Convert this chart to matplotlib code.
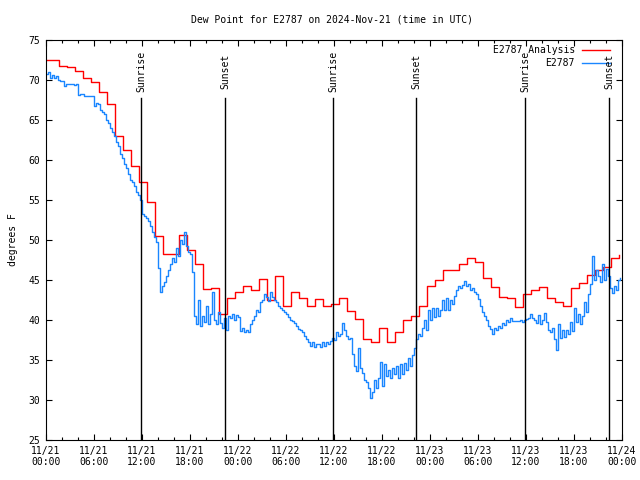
import numpy as np
import pandas as pd
import matplotlib
matplotlib.use('Agg')
import matplotlib.pyplot as plt
import matplotlib.dates as mdates
from matplotlib.lines import Line2D

# Hourly analysis values (valid at hh:40, drawn as steps)
red_start = '2024-11-20 23:40'
red_vals = [72.5, 72.5, 71.75, 71.6, 71.1, 70.2, 69.8, 68.5, 67.0, 63.0, 61.3, 59.2, 57.2,
            54.7, 50.5, 48.2, 48.2, 50.6, 48.75, 47.0, 43.9, 44.0, 40.8, 42.8, 43.5,
            44.25, 43.7, 45.1, 42.5, 45.5, 41.75, 43.5, 42.7, 41.75, 42.6, 41.75,
            42.0, 42.7, 41.1, 40.1, 37.6, 37.3, 39.0, 37.2, 38.5, 40.0, 40.5, 41.7, 44.3,
            45.0, 46.2, 46.2, 47.0, 47.7, 47.2, 45.2, 44.1, 42.9, 42.8, 41.6,
            43.3, 43.8, 44.1, 42.7, 42.3, 41.7, 44.0, 44.6, 45.6, 46.3, 46.6, 47.7, 48.1]

# Station observations, every 15 minutes
blue_day1 = [70.8, 71.0, 70.3, 70.6, 70.2, 70.5, 70.0, 69.9, 69.9, 69.2, 69.5, 69.5,
             69.5, 69.5, 69.4, 69.5, 68.1, 68.3, 68.3, 68.0, 68.0, 68.0, 68.0, 68.0,
             66.7, 67.1, 67.0, 66.3, 66.0, 65.8, 65.0, 64.6, 64.0, 63.5, 63.0, 62.3,
             61.8, 60.7, 60.2, 59.5, 59.0, 58.2, 57.5, 57.2, 56.8, 56.0, 55.6, 55.0,
             53.3, 53.0, 52.8, 52.4, 51.8, 51.0, 50.4, 49.8, 46.5, 43.5, 44.3, 44.8,
             45.5, 46.2, 47.0, 47.8, 47.2, 49.0, 48.0, 50.0, 49.5, 51.0, 49.3, 48.5,
             48.2, 46.0, 40.5, 39.5, 42.5, 39.2, 40.5, 39.8, 41.8, 39.5, 40.8, 43.5,
             40.0, 39.5, 41.0, 39.6, 39.0, 40.2, 38.8, 40.5, 40.2, 40.7, 40.0, 40.6]
blue_day2 = [40.4, 38.6, 39.0, 38.5, 38.8, 38.5, 39.5, 40.0, 40.5, 41.2, 41.0, 42.2,
             42.5, 43.3, 42.9, 42.4, 43.5, 42.9, 42.5, 42.3, 41.8, 41.5, 41.2, 41.0,
             40.8, 40.4, 40.0, 39.9, 39.6, 39.2, 38.9, 38.8, 38.5, 38.0, 37.6, 37.2,
             36.8, 37.2, 36.6, 37.0, 37.0, 36.6, 37.3, 36.8, 37.2, 37.0, 37.4, 37.8,
             37.5, 38.5, 38.0, 38.3, 39.6, 38.8, 38.0, 37.6, 37.8, 35.8, 34.2, 33.6,
             36.5, 34.0, 33.4, 32.5, 32.2, 31.5, 30.2, 31.0, 32.5, 31.5, 32.8, 34.8,
             31.8, 34.5, 33.0, 33.8, 32.8, 34.0, 33.2, 34.2, 32.8, 34.5, 33.3, 34.6,
             33.8, 35.3, 34.2, 35.6, 36.5, 37.6, 38.2, 38.0, 39.0, 40.0, 38.8, 41.2]
blue_day3 = [40.0, 41.5, 40.4, 41.5, 40.5, 41.3, 42.5, 41.3, 42.8, 41.2, 42.5, 42.0,
             43.0, 43.8, 44.3, 44.0, 44.4, 44.9, 44.2, 44.5, 43.8, 44.0, 43.5, 43.3,
             42.6, 41.8, 41.0, 40.5, 40.0, 39.3, 38.9, 38.2, 39.0, 38.7, 39.3, 39.0,
             39.6, 39.4, 40.0, 39.8, 40.2, 39.9, 39.9, 39.9, 39.9, 40.0, 39.7, 40.0,
             40.1, 40.2, 40.8, 40.2, 40.0, 39.6, 40.6, 39.5, 40.0, 40.9, 39.8, 38.8,
             38.5, 39.0, 37.6, 36.3, 39.5, 37.8, 38.8, 37.9, 38.8, 38.3, 39.8, 38.6,
             41.5, 39.8, 40.8, 39.5, 40.5, 42.3, 41.0, 43.2, 44.5, 48.0, 45.0, 46.2,
             45.5, 44.8, 47.0, 45.0, 46.4, 45.5, 44.0, 43.4, 44.3, 43.8, 45.0, 45.3]

sun_times = ['2024-11-21 11:53', '2024-11-21 22:24', '2024-11-22 11:54',
             '2024-11-22 22:18', '2024-11-23 11:55', '2024-11-23 22:22']
sun_labels = ['Sunrise', 'Sunset', 'Sunrise', 'Sunset', 'Sunrise', 'Sunset']

red_t = pd.date_range(red_start, periods=len(red_vals), freq='h')
blue_vals = blue_day1 + blue_day2 + blue_day3
blue_t = pd.date_range('2024-11-21 00:00', periods=len(blue_vals), freq='15min')

mono = 'DejaVu Sans Mono'
fs = 7

fig = plt.figure(figsize=(6.4, 4.8), dpi=100)
ax = fig.add_axes([46 / 640, 40 / 480, 576 / 640, 400 / 480])

ax.plot(red_t, red_vals, color='#ff0000', lw=1.0, drawstyle='steps-post')
ax.plot(blue_t, blue_vals, color='#1a86ff', lw=1.0, drawstyle='steps-post')

for t, lab in zip(sun_times, sun_labels):
    ts = pd.Timestamp(t)
    ax.axvline(ts, ymin=0, ymax=0.855, color='black', lw=1.0)
    ax.text(ts, 0.921, lab, transform=ax.get_xaxis_transform(), rotation=90,
            ha='center', va='center', fontsize=fs, family=mono)

ax.set_xlim(pd.Timestamp('2024-11-21 00:00'), pd.Timestamp('2024-11-24 00:00'))
ax.set_ylim(25, 75)
ax.set_yticks(np.arange(25, 76, 5))

ax.xaxis.set_major_locator(mdates.HourLocator(byhour=range(0, 24, 6)))
ax.xaxis.set_minor_locator(mdates.HourLocator(byhour=range(0, 24, 2)))
ax.xaxis.set_major_formatter(mdates.DateFormatter('%m/%d\n%H:%M'))

ax.tick_params(which='both', direction='in', top=True, right=True,
               labelsize=fs, width=0.8)
ax.tick_params(which='major', length=4, pad=4)
ax.tick_params(which='minor', length=2.2)
for lab in ax.get_xticklabels() + ax.get_yticklabels():
    lab.set_family(mono)
for sp in ax.spines.values():
    sp.set_linewidth(0.8)

ax.set_ylabel('degrees F', fontsize=fs, family=mono, labelpad=8)
fig.text(332 / 640, 1 - 19 / 480, 'Dew Point for E2787 on 2024-Nov-21 (time in UTC)',
         ha='center', va='center', fontsize=fs, family=mono)

# legend drawn by hand: right-aligned text, sample line to the right
leg = [('E2787 Analysis', '#ff0000'), ('E2787', '#1a86ff')]
for i, (txt, col) in enumerate(leg):
    yy = 0.975 - i * 0.0325
    ax.text(0.918, yy, txt, transform=ax.transAxes, ha='right', va='center',
            fontsize=fs, family=mono)
    ax.add_line(Line2D([0.9306, 0.979], [yy, yy], transform=ax.transAxes,
                       color=col, lw=1.0))

fig.savefig('out.png', dpi=100)
